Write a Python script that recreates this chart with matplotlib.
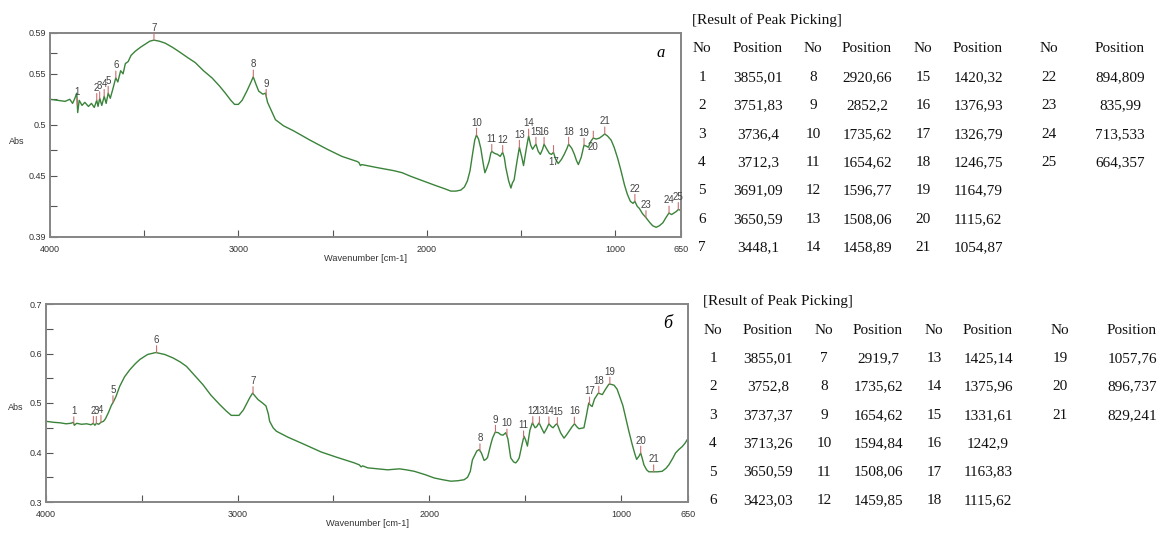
import numpy as np
import matplotlib
matplotlib.use('Agg')
import matplotlib.pyplot as plt

plt.rcParams['font.family'] = ['Liberation Sans', 'DejaVu Sans']

# spectrum a (top)
wn_a = [4000, 3960, 3920, 3895, 3880, 3868, 3858, 3853, 3845, 3830, 3815, 3796, 3780, 3765,
        3752, 3745, 3736, 3725, 3712, 3702, 3691, 3680, 3665, 3651, 3640, 3625, 3612, 3600,
        3585, 3570, 3548, 3520, 3495, 3470, 3448, 3420, 3388, 3350, 3317, 3270, 3229, 3185,
        3140, 3100, 3069, 3040, 3020, 3000, 2980, 2955, 2935, 2921, 2905, 2892, 2870, 2856,
        2845, 2830, 2803, 2760, 2706, 2620, 2528, 2450, 2369, 2360, 2352, 2345, 2262, 2174,
        2130, 2085, 2020, 1961, 1900, 1872, 1845, 1819, 1800, 1784, 1770, 1757, 1745, 1736,
        1725, 1713, 1700, 1691, 1680, 1669, 1660, 1655, 1640, 1624, 1610, 1597, 1588, 1580,
        1565, 1553, 1545, 1536, 1520, 1508, 1495, 1486, 1470, 1459, 1448, 1438, 1428, 1420,
        1408, 1397, 1385, 1377, 1362, 1349, 1338, 1327, 1315, 1302, 1285, 1270, 1255, 1247,
        1230, 1216, 1205, 1195, 1180, 1165, 1152, 1142, 1128, 1116, 1100, 1083, 1068, 1055,
        1040, 1021, 1005, 986, 970, 950, 935, 919, 905, 895, 882, 871, 855, 836, 815, 800,
        782, 765, 746, 730, 714, 700, 687, 675, 664, 650]
abs_a = [0.525, 0.524, 0.523, 0.525, 0.521, 0.526, 0.531, 0.512, 0.524, 0.519, 0.522, 0.518, 0.521, 0.517,
         0.524, 0.518, 0.526, 0.519, 0.528, 0.521, 0.531, 0.526, 0.536, 0.546, 0.542, 0.553, 0.550, 0.560,
         0.562, 0.568, 0.572, 0.576, 0.579, 0.582, 0.583, 0.582, 0.580, 0.576, 0.572, 0.566, 0.561, 0.553,
         0.546, 0.538, 0.531, 0.524, 0.520, 0.520, 0.524, 0.533, 0.541, 0.547, 0.539, 0.533, 0.530, 0.531,
         0.522, 0.516, 0.505, 0.499, 0.494, 0.485, 0.476, 0.469, 0.464, 0.463, 0.460, 0.461, 0.458, 0.455,
         0.453, 0.4495, 0.445, 0.441, 0.437, 0.435, 0.435, 0.436, 0.439, 0.445, 0.455, 0.471, 0.485, 0.490,
         0.486, 0.477, 0.462, 0.453, 0.458, 0.464, 0.472, 0.474, 0.472, 0.471, 0.469, 0.473, 0.468, 0.458,
         0.445, 0.438, 0.443, 0.446, 0.465, 0.478, 0.468, 0.460, 0.478, 0.489, 0.480, 0.476, 0.479, 0.481,
         0.474, 0.471, 0.476, 0.481, 0.476, 0.472, 0.471, 0.473, 0.466, 0.462, 0.466, 0.471, 0.477, 0.481,
         0.477, 0.471, 0.465, 0.461, 0.468, 0.480, 0.479, 0.478, 0.484, 0.487, 0.486, 0.487, 0.489, 0.491,
         0.489, 0.485, 0.478, 0.467, 0.456, 0.441, 0.432, 0.425, 0.423, 0.425, 0.420, 0.418, 0.413, 0.409, 0.404, 0.401,
         0.3995, 0.401, 0.404, 0.409, 0.4135, 0.412, 0.4135, 0.415, 0.417, 0.416]
peaks_a = [3855.01, 3751.83, 3736.4, 3712.3, 3691.09, 3650.59, 3448.1,
           2920.66, 2852.2, 1735.62, 1654.62, 1596.77, 1508.06, 1458.89,
           1420.32, 1376.93, 1326.79, 1246.75, 1164.79, 1115.62, 1054.87,
           894.809, 835.99, 713.533, 664.357]

# spectrum b (bottom)
wn_b = [4000, 3960, 3927, 3895, 3870, 3858, 3852, 3840, 3815, 3788, 3765, 3753, 3745, 3737,
        3725, 3713, 3700, 3690, 3675, 3658, 3650, 3635, 3615, 3590, 3563, 3535, 3510, 3470,
        3427, 3380, 3337, 3300, 3267, 3225, 3181, 3140, 3094, 3060, 3033, 2993, 2970, 2955,
        2935, 2922, 2905, 2894, 2870, 2852, 2840, 2833, 2815, 2798, 2738, 2650, 2564, 2480,
        2391, 2365, 2356, 2348, 2321, 2217, 2156, 2120, 2078, 2020, 1974, 1930, 1887, 1850,
        1818, 1800, 1786, 1775, 1766, 1752, 1740, 1728, 1714, 1705, 1696, 1680, 1670, 1656,
        1640, 1627, 1615, 1601, 1590, 1575, 1560, 1549, 1540, 1531, 1515, 1506, 1497, 1488,
        1475, 1462, 1448, 1440, 1427, 1415, 1401, 1388, 1376, 1362, 1354, 1341, 1333, 1315,
        1297, 1283, 1271, 1255, 1242, 1230, 1219, 1205, 1193, 1180, 1168, 1158, 1150, 1138,
        1118, 1097, 1080, 1063, 1055, 1036, 1020, 1010, 990, 975, 958, 941, 928, 918, 905,
        897, 888, 880, 866, 854, 833, 810, 785, 765, 750, 730, 715, 698, 680, 665, 654, 650]
abs_b = [0.463, 0.461, 0.460, 0.458, 0.459, 0.461, 0.455, 0.459, 0.457, 0.458, 0.456, 0.459, 0.455, 0.459,
         0.457, 0.461, 0.463, 0.468, 0.480, 0.496, 0.501, 0.513, 0.534, 0.553, 0.567, 0.579, 0.588, 0.598,
         0.602, 0.598, 0.591, 0.583, 0.574, 0.556, 0.537, 0.516, 0.497, 0.484, 0.475, 0.475, 0.486, 0.497,
         0.512, 0.520, 0.512, 0.507, 0.500, 0.494, 0.478, 0.463, 0.450, 0.443, 0.431, 0.416, 0.401, 0.390,
         0.379, 0.375, 0.371, 0.373, 0.369, 0.365, 0.367, 0.365, 0.362, 0.355, 0.3485, 0.345, 0.342, 0.343,
         0.345, 0.350, 0.362, 0.385, 0.392, 0.403, 0.406, 0.399, 0.384, 0.386, 0.390, 0.415, 0.429, 0.441,
         0.440, 0.436, 0.435, 0.440, 0.428, 0.389, 0.381, 0.379, 0.383, 0.389, 0.418, 0.433, 0.425, 0.413,
         0.445, 0.460, 0.450, 0.452, 0.460, 0.450, 0.439, 0.448, 0.458, 0.452, 0.450, 0.456, 0.458, 0.440,
         0.429, 0.436, 0.443, 0.452, 0.458, 0.452, 0.448, 0.449, 0.450, 0.475, 0.500, 0.495, 0.493, 0.508,
         0.520, 0.517, 0.528, 0.538, 0.538, 0.536, 0.528, 0.517, 0.495, 0.470, 0.442, 0.416, 0.398, 0.386, 0.393,
         0.399, 0.387, 0.375, 0.365, 0.361, 0.361, 0.361, 0.362, 0.368, 0.375, 0.388, 0.399, 0.406, 0.412, 0.419, 0.426, 0.428]
peaks_b = [3855.01, 3752.8, 3737.37, 3713.26, 3650.59, 3423.03,
           2919.7, 1735.62, 1654.62, 1594.84, 1508.06, 1459.85,
           1425.14, 1375.96, 1331.61, 1242.9, 1163.83, 1115.62,
           1057.76, 896.737, 829.241]

W, H = 1165, 534
fig = plt.figure(figsize=(W / 100, H / 100), dpi=100)


def fx(x):
    return x / W


def fy(y):
    return 1 - y / H


def spectrum(box, wn, ab, peaks, yticks, ylabels, letter, lsize, below=()):
    x0, y0, x1, y1 = box
    ax = fig.add_axes([fx(x0), fy(y1), fx(x1) - fx(x0), fy(y0) - fy(y1)])
    wn = np.array(wn)
    ab = np.array(ab)
    ax.plot(wn, ab, color='#3a833a', lw=1.0)
    ax.set_xlim(4000, 650)
    ax.set_ylim(yticks[-1], yticks[0])
    ax.set_xticks([4000, 3000, 2000, 1000, 650])
    ax.set_xticks([3500, 2500, 1500], minor=True)
    ax.set_yticks(yticks)
    ax.set_yticklabels(ylabels)
    ax.set_yticks([(a + b) / 2 for a, b in zip(yticks[:-1], yticks[1:])], minor=True)
    ax.tick_params(which='both', direction='in', length=5, width=0.8, color='#555555',
                   labelsize=6.5, labelcolor='#333333')
    ax.tick_params(axis='x', pad=5.5)
    ax.tick_params(axis='y', pad=3)
    for s in ax.spines.values():
        s.set_color('#858585')
        s.set_linewidth(1.4)
    ax.set_xlabel('Wavenumber [cm-1]', fontsize=6.7, color='#333333')
    ax.xaxis.set_label_coords(0.5, -0.085)
    ax.text(0.975, 0.9, letter, transform=ax.transAxes, ha='right', va='center',
            family='Liberation Serif', style='italic', fontsize=lsize)
    yp = np.interp(peaks, wn[::-1], ab[::-1])
    for i, (p, y) in enumerate(zip(peaks, yp), start=1):
        ax.annotate('', xy=(p, y), xytext=(0, 5), textcoords='offset points',
                    arrowprops=dict(arrowstyle='-', color='#c87070', lw=0.8,
                                    shrinkA=0, shrinkB=0))
        if i in below:
            ax.annotate(str(i), xy=(p, y), xytext=(0, -3), textcoords='offset points',
                        ha='center', va='top', fontsize=7, color='#444444')
        else:
            ax.annotate(str(i), xy=(p, y), xytext=(0, 5.5), textcoords='offset points',
                        ha='center', va='bottom', fontsize=7, color='#444444')
    return ax


spectrum((50, 33, 681, 237), wn_a, abs_a, peaks_a,
         [0.59, 0.55, 0.5, 0.45, 0.39], ['0.59', '0.55', '0.5', '0.45', '0.39'],
         'а', 12, below=(17, 20))
spectrum((46, 304, 688, 502), wn_b, abs_b, peaks_b,
         [0.7, 0.6, 0.5, 0.4, 0.3], ['0.7', '0.6', '0.5', '0.4', '0.3'],
         'б', 13)
fig.text(fx(17), fy(142), 'Abs', fontsize=6.5, color='#333333', ha='center', va='center')
fig.text(fx(16), fy(407), 'Abs', fontsize=6.5, color='#333333', ha='center', va='center')


def table(cols, x_title, y_title, y_head, nrows, peaks):
    serif = dict(family='Liberation Serif', fontsize=11, color='#111111', va='center')
    fig.text(fx(x_title), fy(y_title), '[Result of Peak Picking]', ha='left', **serif)
    for c, xc in enumerate(cols):
        fig.text(fx(xc), fy(y_head), 'No' if c % 2 == 0 else 'Position', ha='center', **serif)
    for k, v in enumerate(peaks):
        col, row = divmod(k, nrows)
        y = y_head + 28.4 * (row + 1)
        fig.text(fx(cols[2 * col]), fy(y), str(k + 1), ha='center', **serif)
        fig.text(fx(cols[2 * col + 1]), fy(y), str(v).replace('.', ','), ha='center', **serif)


table([702, 758, 813, 867, 923, 978, 1049, 1120], 692, 20, 49, 7, peaks_a)
table([713, 768, 824, 878, 934, 988, 1060, 1132], 703, 301, 330, 6, peaks_b)

fig.savefig('out.png', dpi=100)
